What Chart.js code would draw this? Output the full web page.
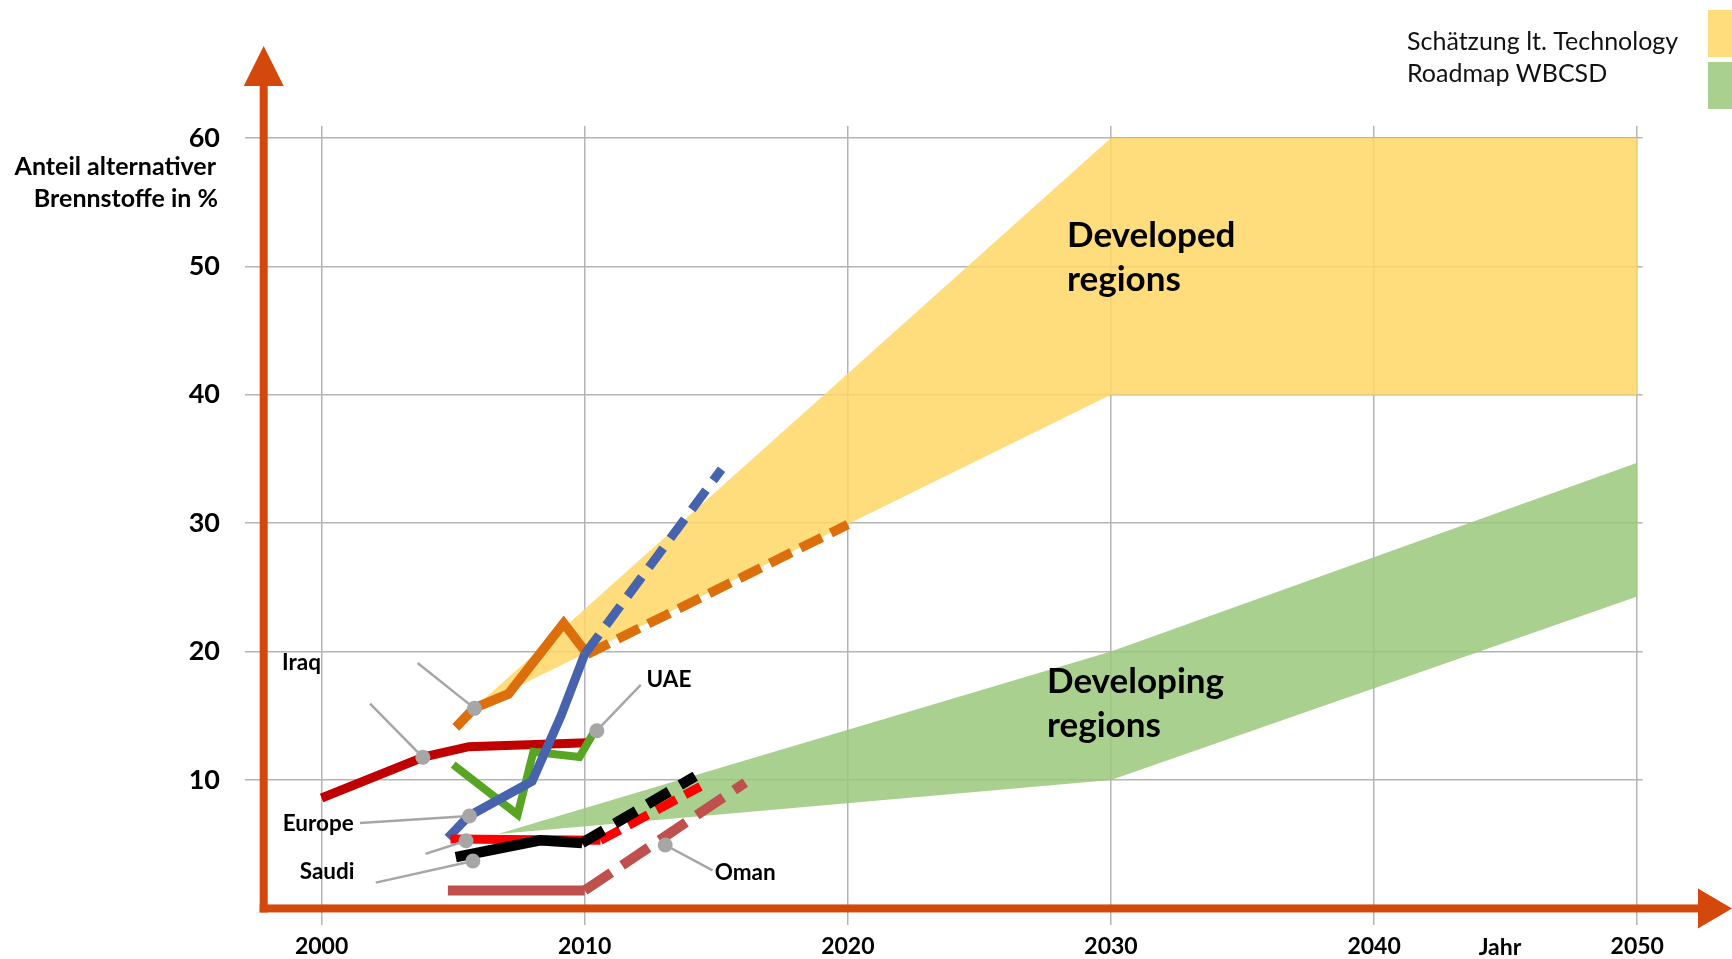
<!DOCTYPE html>
<html lang="de">
<head>
<meta charset="UTF-8">
<title>Anteil alternativer Brennstoffe</title>
<script src="https://cdn.jsdelivr.net/npm/chart.js"></script>
<style>
  body { margin: 0; background: #fff; }
  #wrap { width: 1732px; height: 959px; }
</style>
</head>
<body>
<div id="wrap"><canvas id="myChart"></canvas></div>
<script>
// Baender (Schaetzung lt. Technology Roadmap WBCSD)
const devYears = [2005.8, 2030, 2050];
const devLow   = [15.6, 40, 40];
const devHigh  = [15.6, 60, 60];
const dvgYears = [2006.7, 2030, 2050];
const dvgLow   = [5.8, 10, 24.3];
const dvgHigh  = [5.8, 20, 34.7];

// Laenderkurven
const orangeYears = [2005.1, 2005.8, 2007.1, 2009.2, 2010.1, 2020];
const orangeVals  = [14.1, 15.6, 16.7, 22.2, 19.8, 29.9];
const blueYears   = [2004.8, 2005.6, 2008, 2009.1, 2010, 2015.2];
const blueVals    = [5.5, 7.2, 9.9, 15.0, 19.8, 34.2];
const greenYears  = [2005.0, 2007.45, 2008.05, 2009.8, 2010.4];
const greenVals   = [11.2, 7.3, 12.2, 11.8, 13.9];
const darkRedYears = [2000, 2003.9, 2005.6, 2010.1];
const darkRedVals  = [8.6, 11.8, 12.6, 12.9];
const redYears    = [2004.9, 2010.6, 2014.4];
const redVals     = [5.4, 5.3, 9.5];
const blackYears  = [2005.1, 2008.3, 2009.9, 2014.2];
const blackVals   = [4.0, 5.3, 5.1, 10.3];
const brownYears  = [2004.8, 2010.0, 2016.1];
const brownVals   = [1.4, 1.4, 9.8];

const xTicks = [2000, 2010, 2020, 2030, 2040, 2050];
const yTicks = [10, 20, 30, 40, 50, 60];

// Beschriftungen (in Datenkoordinaten)
const labels = [
  { text: 'Iraq',   x: 1999.24, y: 19.1 },
  { text: 'UAE',    x: 2013.2,  y: 17.8 },
  { text: 'Europe', x: 1999.87, y: 6.57 },
  { text: 'Saudi',  x: 2000.21, y: 2.87 },
  { text: 'Oman',   x: 2016.1,  y: 2.79 }
];
const leaders = [
  [2003.65, 19.11, 2005.81, 15.58],
  [2001.84, 15.95, 2003.85, 11.77],
  [2012.13, 17.41, 2010.46, 13.84],
  [2001.46, 6.65, 2005.62, 7.2],
  [2003.95, 4.25, 2005.49, 5.27],
  [2002.06, 2.01, 2005.75, 3.69],
  [2014.86, 2.96, 2013.06, 4.94]
];

function pts(xs, ys) {
  return xs.map((x, i) => ({ x: x, y: ys[i] }));
}

function lineSet(xs, ys, color, width, dashFrom, dash, order) {
  return {
    data: pts(xs, ys),
    borderColor: color,
    borderWidth: width,
    borderCapStyle: 'butt',
    borderJoinStyle: 'miter',
    pointRadius: 0,
    fill: false,
    tension: 0,
    order: order,
    segment: {
      borderDash: ctx => (dashFrom !== null && ctx.p0.parsed.x >= dashFrom - 0.001) ? dash : undefined
    }
  };
}

function bandSet(xs, ys, fill, color) {
  return {
    data: pts(xs, ys),
    borderWidth: 0,
    pointRadius: 0,
    fill: fill,
    backgroundColor: color,
    tension: 0,
    order: 20
  };
}

const FONT = 'Lato, "Noto Sans", sans-serif';

const decor = {
  id: 'decor',
  afterDatasetsDraw(chart) {
    const ctx = chart.ctx;
    const xs = chart.scales.x, ys = chart.scales.y;
    const ax = xs.getPixelForValue(1997.8);
    const ay = ys.getPixelForValue(0);
    const orange = '#D4480B';
    ctx.save();
    ctx.fillStyle = orange;
    // y-Achse mit Pfeil
    ctx.fillRect(ax - 4, 85, 8, ay + 4 - 85);
    ctx.beginPath();
    ctx.moveTo(ax - 20, 86); ctx.lineTo(ax + 20, 86); ctx.lineTo(ax, 46);
    ctx.closePath(); ctx.fill();
    // x-Achse mit Pfeil
    ctx.fillRect(ax - 4, ay - 4, 1699 - (ax - 4), 8);
    ctx.beginPath();
    ctx.moveTo(1698, ay - 20); ctx.lineTo(1698, ay + 20); ctx.lineTo(1732, ay);
    ctx.closePath(); ctx.fill();

    // Hinweislinien und Punkte
    ctx.strokeStyle = '#A6A6A6';
    ctx.fillStyle = '#A6A6A6';
    ctx.lineWidth = 2.5;
    leaders.forEach(l => {
      const x1 = xs.getPixelForValue(l[0]), y1 = ys.getPixelForValue(l[1]);
      const x2 = xs.getPixelForValue(l[2]), y2 = ys.getPixelForValue(l[3]);
      ctx.beginPath(); ctx.moveTo(x1, y1); ctx.lineTo(x2, y2); ctx.stroke();
      ctx.beginPath(); ctx.arc(x2, y2, 7.5, 0, Math.PI * 2); ctx.fill();
    });

    // Laendernamen
    ctx.fillStyle = '#000';
    ctx.font = 'bold 22.5px ' + FONT;
    ctx.textAlign = 'center';
    ctx.textBaseline = 'middle';
    labels.forEach(t => {
      ctx.fillText(t.text, xs.getPixelForValue(t.x), ys.getPixelForValue(t.y));
    });

    // Bandtexte
    ctx.font = 'bold 35px ' + FONT;
    ctx.textAlign = 'left';
    ctx.textBaseline = 'alphabetic';
    ctx.fillText('Developed', 1067, 247);
    ctx.fillText('regions', 1067, 291);
    ctx.fillText('Developing', 1047, 693);
    ctx.fillText('regions', 1047, 737);

    // Achsentitel
    ctx.font = 'bold 25px ' + FONT;
    ctx.textAlign = 'right';
    ctx.fillText('Anteil alternativer', 216, 175);
    ctx.fillText('Brennstoffe in %', 218, 207);
    ctx.font = 'bold 23px ' + FONT;
    ctx.textAlign = 'center';
    ctx.fillText('Jahr', 1500, 955);

    // Legende
    ctx.font = '25px ' + FONT;
    ctx.textAlign = 'left';
    ctx.fillStyle = '#111';
    ctx.fillText('Schätzung lt. Technology', 1407, 50);
    ctx.fillText('Roadmap WBCSD', 1407, 82);
    ctx.fillStyle = 'rgb(255,221,125)';
    ctx.fillRect(1708, 10, 24, 47);
    ctx.fillStyle = 'rgb(169,208,142)';
    ctx.fillRect(1708, 62, 24, 47);
    ctx.restore();
  }
};

const gridColor = '#B4B4B4';

new Chart(document.getElementById('myChart'), {
  type: 'line',
  data: {
    datasets: [
      lineSet(blackYears, blackVals, '#000000', 10.5, 2009.9, [25, 13], 1),
      lineSet(redYears, redVals, '#FF0000', 9, 2010.6, [22, 10], 2),
      lineSet(brownYears, brownVals, '#C0504D', 10, 2010.0, [32, 13], 3),
      lineSet(blueYears, blueVals, '#4863AD', 9, 2010.0, [24, 12], 4),
      lineSet(orangeYears, orangeVals, '#DD6E0C', 9.5, 2010.1, [24, 10], 5),
      lineSet(greenYears, greenVals, '#58A423', 8, null, null, 6),
      lineSet(darkRedYears, darkRedVals, '#C00000', 9, null, null, 7),
      bandSet(devYears, devLow, false, 'transparent'),
      bandSet(devYears, devHigh, '-1', 'rgba(255,215,102,0.85)'),
      bandSet(dvgYears, dvgLow, false, 'transparent'),
      bandSet(dvgYears, dvgHigh, '-1', 'rgba(154,200,122,0.85)')
    ]
  },
  options: {
    responsive: true,
    maintainAspectRatio: false,
    animation: false,
    layout: { padding: { left: 0, right: 89.5, top: 126, bottom: 0 } },
    plugins: { legend: { display: false }, tooltip: { enabled: false } },
    scales: {
      x: {
        type: 'linear',
        min: 1997.09,
        max: 2050.2,
        afterBuildTicks: s => { s.ticks = xTicks.map(v => ({ value: v })); },
        afterFit: s => { s.height = 34; s.paddingLeft = 0; s.paddingRight = 0; },
        grid: { color: gridColor, lineWidth: 1.5, drawTicks: false },
        border: { display: false },
        ticks: {
          padding: 8,
          color: '#000',
          font: { family: FONT, size: 23, weight: 'bold' },
          callback: v => String(v)
        }
      },
      y: {
        type: 'linear',
        min: -1.29,
        max: 60.93,
        afterBuildTicks: s => { s.ticks = yTicks.map(v => ({ value: v })); },
        afterFit: s => { s.width = 245; s.paddingTop = 0; s.paddingBottom = 0; },
        grid: { color: gridColor, lineWidth: 1.5, drawTicks: false },
        border: { display: false },
        ticks: {
          padding: 25,
          color: '#000',
          font: { family: FONT, size: 27, weight: 'bold' },
          callback: v => String(v)
        }
      }
    }
  },
  plugins: [decor]
});
</script>
</body>
</html>
